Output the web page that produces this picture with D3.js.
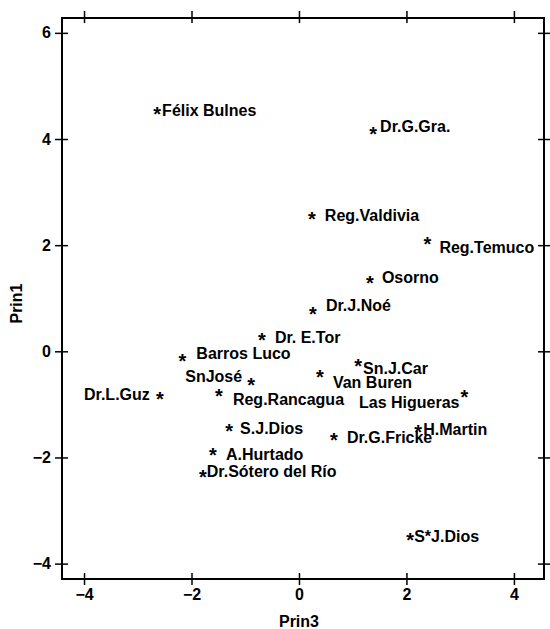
<!DOCTYPE html>
<html lang="en">
<head>
<meta charset="UTF-8">
<title>Prin3 vs Prin1</title>
<script src="https://d3js.org/d3.v7.min.js"></script>
<style>
    *{margin:0;padding:0}
    body{background:#fff}
    text{font-family:"Liberation Sans",Arial,Helvetica,sans-serif;font-weight:bold;fill:#000}
    .axis line{stroke:#000;stroke-width:1.5}
    .axis text{font-size:16px}
    .lbl{font-size:16px}
    .star{font-size:20px}
</style>
</head>
<body>
<div id="chart"></div>
<script>
    // hospitals, scores on 3rd and 1st principal components
    var hospitals = ["Félix Bulnes","Dr.G.Gra.","Reg.Valdivia","Reg.Temuco","Osorno","Dr.J.Noé",
        "Dr. E.Tor","Barros Luco","SnJosé","Reg.Rancagua","Dr.L.Guz","Van Buren","Sn.J.Car",
        "Las Higueras","H.Martin","Dr.G.Fricke","S.J.Dios","A.Hurtado","Dr.Sótero del Río","S*J.Dios"];
    var prin3 = [-2.64, 1.38, 0.24, 2.39, 1.32, 0.26, -0.69, -2.17, -0.89, -1.49, -2.59, 0.39, 1.10,
        3.08, 2.22, 0.65, -1.30, -1.60, -1.79, 2.07];
    var prin1 = [4.55, 4.17, 2.57, 2.10, 1.36, 0.78, 0.29, -0.10, -0.56, -0.76, -0.82, -0.41, -0.20,
        -0.78, -1.44, -1.59, -1.42, -1.88, -2.29, -3.48];
    var xTicks = [-4, -2, 0, 2, 4];
    var yTicks = [-4, -2, 0, 2, 4, 6];

    var W = 550, H = 629;
    var m = {left: 62, top: 18, right: 6, bottom: 50};
    var iw = W - m.left - m.right, ih = H - m.top - m.bottom;

    var svg = d3.select("#chart").append("svg").attr("width", W).attr("height", H);
    var g = svg.append("g").attr("transform", "translate(" + m.left + "," + m.top + ")");

    var x = d3.scaleLinear().domain([-4.41, 4.56]).range([0, iw]);
    var y = d3.scaleLinear().domain([-4.29, 6.28]).range([ih, 0]);

    // outer ticks + labels, then the inner half of each tick
    function ax(sel, axis) {
        sel.attr("class", "axis").call(axis).call(function (s) { s.select(".domain").remove(); });
    }
    g.append("g").attr("transform", "translate(0," + ih + ")")
        .call(ax, d3.axisBottom(x).tickValues(xTicks).tickSize(6).tickPadding(4));
    g.append("g").attr("transform", "translate(0," + ih + ")")
        .call(ax, d3.axisTop(x).tickValues(xTicks).tickSize(6).tickFormat(""));
    g.append("g").call(ax, d3.axisTop(x).tickValues(xTicks).tickSize(7).tickFormat(""));
    g.append("g").call(ax, d3.axisBottom(x).tickValues(xTicks).tickSize(5).tickFormat(""));

    g.append("g").call(ax, d3.axisLeft(y).tickValues(yTicks).tickSize(7).tickPadding(4));
    g.append("g").call(ax, d3.axisRight(y).tickValues(yTicks).tickSize(6).tickFormat(""));
    g.append("g").attr("transform", "translate(" + iw + ",0)")
        .call(ax, d3.axisRight(y).tickValues(yTicks).tickSize(6).tickFormat(""));
    g.append("g").attr("transform", "translate(" + iw + ",0)")
        .call(ax, d3.axisLeft(y).tickValues(yTicks).tickSize(6).tickFormat(""));

    g.append("rect").attr("width", iw).attr("height", ih)
        .attr("fill", "none").attr("stroke", "#000").attr("stroke-width", 2);

    // label nudges (pixels from the star): [dx, dy, anchor]
    var nudge = {
        "Félix Bulnes": [5, 6, "start"], "Dr.G.Gra.": [7, 2, "start"], "Reg.Valdivia": [13, 6, "start"],
        "Reg.Temuco": [12, 13, "start"], "Osorno": [12, 4, "start"], "Dr.J.Noé": [13, 1, "start"],
        "Dr. E.Tor": [13, 7, "start"], "Barros Luco": [14, 2, "start"], "SnJosé": [-9, 1, "end"],
        "Reg.Rancagua": [14, 13, "start"], "Dr.L.Guz": [-10, 5, "end"], "Van Buren": [13, 15, "start"],
        "Sn.J.Car": [5, 12, "start"], "Las Higueras": [-5, 15, "end"], "H.Martin": [5, 7, "start"],
        "Dr.G.Fricke": [13, 7, "start"], "S.J.Dios": [11, 7, "start"], "A.Hurtado": [13, 9, "start"],
        "Dr.Sótero del Río": [4, 4, "start"], "S*J.Dios": [4, 6, "start"]
    };

    var pts = g.selectAll(".pt").data(hospitals).enter().append("g").attr("class", "pt")
        .attr("transform", function (d, i) { return "translate(" + x(prin3[i]) + "," + y(prin1[i]) + ")"; });
    pts.append("text").attr("class", "star").attr("text-anchor", "middle").attr("y", 11).text("*");
    pts.append("text").attr("class", "lbl")
        .attr("x", function (d) { return nudge[d][0]; })
        .attr("y", function (d) { return nudge[d][1]; })
        .attr("text-anchor", function (d) { return nudge[d][2]; })
        .text(function (d) { return d; });

    svg.append("text").attr("class", "lbl").attr("text-anchor", "middle")
        .attr("x", m.left + x(0)).attr("y", 627).text("Prin3");
    svg.append("text").attr("class", "lbl").attr("text-anchor", "middle")
        .attr("transform", "translate(22," + (m.top + y(0.9)) + ") rotate(-90)").text("Prin1");
</script>
</body>
</html>
